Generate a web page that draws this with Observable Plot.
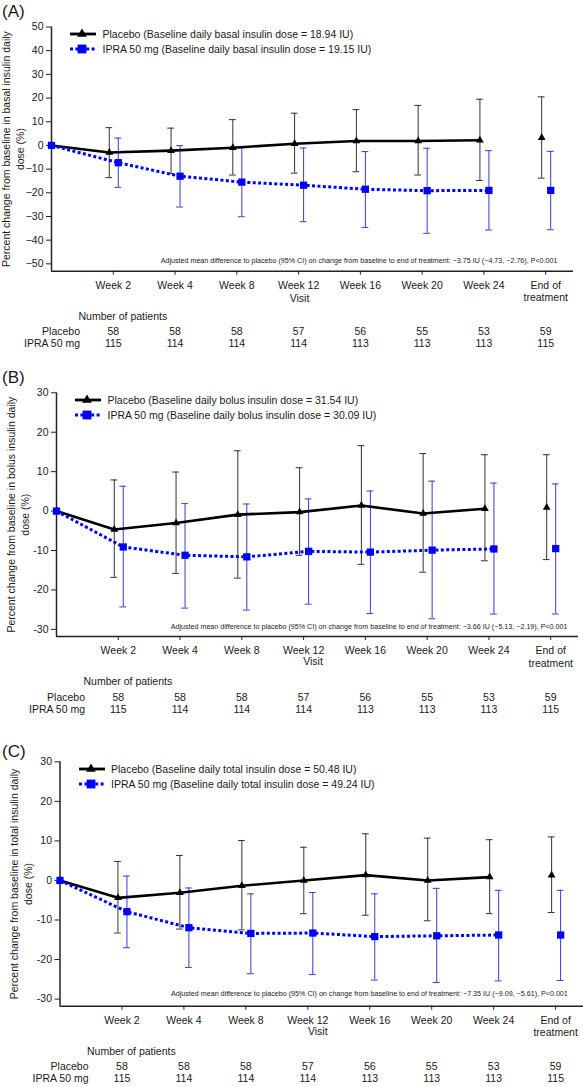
<!DOCTYPE html>
<html><head><meta charset="utf-8">
<script src="https://cdn.jsdelivr.net/npm/d3@7"></script>
<script src="https://cdn.jsdelivr.net/npm/@observablehq/plot@0.6"></script>
<style>
body{margin:0;background:#fff;font-family:'Liberation Sans',Arial,Helvetica,sans-serif;color:#1a1a1a}
#page{position:relative;width:583px;height:1087px;overflow:hidden;background:#fff}
.panel{position:absolute;left:0}
.plab{position:absolute;left:2px;font-size:17px;line-height:20px;color:#1a1a1a}
.leg{position:absolute;font-size:10.5px;line-height:15px;white-space:nowrap;color:#1a1a1a}
.leg .row{display:flex;align-items:center;height:15px}
.leg svg{margin-right:6.5px;flex:none}
</style></head><body><div id="page"></div>
<script>
// ---------- data ----------
const visits = ["Baseline","Week 2","Week 4","Week 8","Week 12","Week 16","Week 20","Week 24","End of treatment"];
const tickLabels = ["","Week 2","Week 4","Week 8","Week 12","Week 16","Week 20","Week 24","End of\ntreatment"];
const nPlacebo = [58,58,58,57,56,55,53,59];
const nIpra = [115,114,114,114,113,113,113,115];

const yTicksA = [-50,-40,-30,-20,-10,0,10,20,30,40,50];
const yTicksBC = [-30,-20,-10,0,10,20,30];

// Panel A: basal insulin
const placeboMeanA = [0,-3.0,-2.2,-1.0,0.7,1.9,1.9,2.2,3.2];
const placeboLoA   = [null,-13.6,-11.9,-12.5,-11.7,-11.1,-12.5,-14.8,-13.8];
const placeboHiA   = [null,7.5,7.3,10.9,13.6,15.1,16.9,19.5,20.5];
const ipraMeanA    = [0,-7.3,-13.0,-15.5,-16.8,-18.5,-19.1,-19.0,-19.0];
const ipraLoA      = [null,-17.7,-26.0,-30.1,-32.2,-34.6,-37.1,-35.7,-35.6];
const ipraHiA      = [null,3.1,-0.1,-1.0,-1.1,-2.6,-1.2,-2.2,-2.5];

// Panel B: bolus insulin
const placeboMeanB = [0,-4.65,-3.0,-0.9,-0.25,1.4,-0.6,0.6,0.9];
const placeboLoB   = [null,-16.8,-15.8,-17.0,-11.2,-13.5,-15.5,-12.6,-12.3];
const placeboHiB   = [null,7.9,9.9,15.3,11.0,16.6,14.6,14.3,14.3];
const ipraMeanB    = [0,-9.1,-11.2,-11.6,-10.2,-10.4,-9.9,-9.6,-9.5];
const ipraLoB      = [null,-24.3,-24.6,-25.1,-23.6,-26.0,-27.3,-26.1,-26.1];
const ipraHiB      = [null,6.3,1.9,1.8,3.1,5.1,7.6,7.1,6.9];

// Panel C: total insulin
const placeboMeanC = [0,-4.4,-3.1,-1.35,0,1.35,0,0.85,1.3];
const placeboLoC   = [null,-13.3,-12.3,-12.5,-8.4,-8.8,-10.2,-8.4,-8.1];
const placeboHiC   = [null,4.8,6.3,10.1,8.4,11.8,10.7,10.3,11.0];
const ipraMeanC    = [0,-7.9,-11.95,-13.4,-13.3,-14.2,-14.0,-13.8,-13.8];
const ipraLoC      = [null,-17.0,-22.0,-23.6,-23.8,-25.2,-25.8,-25.4,-25.3];
const ipraHiC      = [null,1.1,-1.9,-3.4,-3.05,-3.4,-2.0,-2.5,-2.5];

const legendA = ["Placebo (Baseline daily basal insulin dose = 18.94 IU)","IPRA 50 mg (Baseline daily basal insulin dose = 19.15 IU)"];
const legendB = ["Placebo (Baseline daily bolus insulin dose = 31.54 IU)","IPRA 50 mg (Baseline daily bolus insulin dose = 30.09 IU)"];
const legendC = ["Placebo (Baseline daily total insulin dose = 50.48 IU)","IPRA 50 mg (Baseline daily total insulin dose = 49.24 IU)"];
const yLabelA = ["Percent change from baseline in basal insulin daily","dose (%)"];
const yLabelB = ["Percent change from baseline in bolus insulin daily","dose (%)"];
const yLabelC = ["Percent change from baseline in total insulin daily","dose (%)"];
const annotA = "Adjusted mean difference to placebo (95% CI) on change from baseline to end of treatment: \u22123.75 IU (\u22124.73, \u22122.76), P<0.001";
const annotB = "Adjusted mean difference to placebo (95% CI) on change from baseline to end of treatment: \u22123.66 IU (\u22125.13, \u22122.19), P<0.001";
const annotC = "Adjusted mean difference to placebo (95% CI) on change from baseline to end of treatment: \u22127.35 IU (\u22129.09, \u22125.61), P<0.001";

// ---------- styles ----------
const W = 583;
const FONT = "'Liberation Sans', Arial, Helvetica, sans-serif";
const INK = "#1a1a1a";
const BLUE = "#0000ff";
const BLUE_BAR = "#3a3ad8";
const X_MAX = 8.45;

const page = document.getElementById("page");

function legendGlyph(kind) {
  const svg = d3.create("svg").attr("width", 26).attr("height", 12);
  if (kind === "placebo") {
    svg.append("line").attr("x1", 0).attr("x2", 26).attr("y1", 6).attr("y2", 6)
      .attr("stroke", "#000").attr("stroke-width", 2.8);
    svg.append("path").attr("d", d3.symbol(d3.symbolTriangle, 3.6 * 3.6 * Math.PI)())
      .attr("transform", "translate(12,6)").attr("fill", "#000");
  } else {
    svg.append("line").attr("x1", 0).attr("x2", 26).attr("y1", 6).attr("y2", 6)
      .attr("stroke", BLUE).attr("stroke-width", 3).attr("stroke-dasharray", "3,2.4");
    svg.append("path").attr("d", d3.symbol(d3.symbolSquare, 5 * 5 * Math.PI)())
      .attr("transform", "translate(12,6)").attr("fill", BLUE);
  }
  return svg.node();
}

function drawPanel(cfg) {
  const spacing = (W - cfg.ml - cfg.mr) / X_MAX;
  const offP = -4 / spacing, offI = 5 / spacing, cap = 3.4 / spacing;
  const rows = (mean, lo, hi, off) => mean.map((m, i) => ({
    i, visit: visits[i], x: i === 0 ? 0 : i + off, mean: m, lo: lo[i], hi: hi[i]
  }));
  const P = rows(cfg.pm, cfg.pl, cfg.ph, offP);
  const I = rows(cfg.im, cfg.il, cfg.ih, offI);
  const Pe = P.filter(d => d.lo != null), Ie = I.filter(d => d.lo != null);
  const lineP = P.filter(d => d.visit !== "End of treatment");
  const lineI = I.filter(d => d.visit !== "End of treatment");

  const svg = Plot.plot({
    width: W, height: cfg.h,
    marginTop: cfg.mt, marginBottom: cfg.mb, marginLeft: cfg.ml, marginRight: cfg.mr,
    style: {fontFamily: FONT, fontSize: "10.5px", color: INK, background: "transparent", overflow: "visible"},
    x: {type: "linear", domain: [0, X_MAX], axis: null},
    y: {domain: cfg.yDomain, axis: null},
    marks: [
      Plot.ruleX([0], {y1: cfg.yDomain[0], y2: cfg.yDomain[1], stroke: "#222", strokeWidth: 1.5}),
      Plot.ruleY([cfg.yDomain[0]], {stroke: "#222", strokeWidth: 1.6}),
      Plot.axisY({ticks: cfg.yTicks, tickSize: 5, tickPadding: 3, tickFormat: cfg.yFmt, label: null, stroke: "#222", fill: INK}),
      Plot.axisX({ticks: d3.range(1, visits.length), tickSize: 4, tickPadding: 5,
        tickFormat: i => tickLabels[i], label: null, lineHeight: 1.18, stroke: "#222", fill: INK}),
      // error bars
      Plot.ruleX(Pe, {x: "x", y1: "lo", y2: "hi", stroke: "#333", strokeWidth: 1}),
      Plot.ruleY(Pe, {y: "hi", x1: d => d.x - cap, x2: d => d.x + cap, stroke: "#333", strokeWidth: 1}),
      Plot.ruleY(Pe, {y: "lo", x1: d => d.x - cap, x2: d => d.x + cap, stroke: "#333", strokeWidth: 1}),
      Plot.ruleX(Ie, {x: "x", y1: "lo", y2: "hi", stroke: BLUE_BAR, strokeWidth: 1}),
      Plot.ruleY(Ie, {y: "hi", x1: d => d.x - cap, x2: d => d.x + cap, stroke: BLUE_BAR, strokeWidth: 1}),
      Plot.ruleY(Ie, {y: "lo", x1: d => d.x - cap, x2: d => d.x + cap, stroke: BLUE_BAR, strokeWidth: 1}),
      // lines
      Plot.line(lineP, {x: "x", y: "mean", stroke: "#000", strokeWidth: 2.6}),
      Plot.line(lineI, {x: "x", y: "mean", stroke: BLUE, strokeWidth: 3, strokeDasharray: "3,2.4", strokeLinecap: "butt", strokeLinejoin: "miter"}),
      // markers
      Plot.dot(P, {x: "x", y: "mean", symbol: "triangle", r: 2.9, fill: "#000"}),
      Plot.dot(I, {x: "x", y: "mean", symbol: "square", r: 4.1, fill: BLUE}),
      // y label (two lines)
      Plot.text([cfg.yLabel[0]], {text: d => d, frameAnchor: "left", textAnchor: "middle", rotate: -90, dx: -45, fill: INK}),
      Plot.text([cfg.yLabel[1]], {text: d => d, frameAnchor: "left", textAnchor: "middle", rotate: -90, dx: -31, fill: INK}),
      // annotation
      Plot.text([cfg.annot], {text: d => d, frameAnchor: "bottom-right", textAnchor: "end",
        dx: cfg.annotDx, dy: cfg.annotDy, fontSize: 7.15, fill: INK}),
      // x label
      Plot.text(["Visit"], {text: d => d, frameAnchor: "bottom", dx: cfg.visitDx, dy: cfg.visitDy, fill: INK}),
      // patient table
      Plot.text(["Number of patients"], {text: d => d, frameAnchor: "bottom-left", textAnchor: "start", dx: 27, dy: 48.5, fill: INK}),
      Plot.text(["Placebo"], {text: d => d, frameAnchor: "bottom-left", textAnchor: "end", dx: 28.5, dy: 64, fill: INK}),
      Plot.text(["IPRA 50 mg"], {text: d => d, frameAnchor: "bottom-left", textAnchor: "end", dx: 28.5, dy: 76, fill: INK}),
      Plot.text(nPlacebo, {x: (d, i) => i + 1, text: d => String(d), frameAnchor: "bottom", dy: 64, fill: INK}),
      Plot.text(nIpra, {x: (d, i) => i + 1, text: d => String(d), frameAnchor: "bottom", dy: 76, fill: INK})
    ]
  });

  const wrap = document.createElement("div");
  wrap.className = "panel";
  wrap.style.top = cfg.top + "px";
  wrap.appendChild(svg);
  page.appendChild(wrap);

  const lab = document.createElement("div");
  lab.className = "plab";
  lab.style.top = cfg.labTop + "px";
  lab.textContent = cfg.label;
  page.appendChild(lab);

  const leg = document.createElement("div");
  leg.className = "leg";
  leg.style.left = (cfg.ml + 19) + "px";
  leg.style.top = (cfg.top + cfg.mt + cfg.legOff) + "px";
  cfg.legend.forEach((t, k) => {
    const r = document.createElement("div");
    r.className = "row";
    r.appendChild(legendGlyph(k === 0 ? "placebo" : "ipra"));
    const s = document.createElement("span");
    s.textContent = t;
    r.appendChild(s);
    leg.appendChild(r);
  });
  page.appendChild(leg);
}

const fmtMinus = d => d < 0 ? "\u2212" + (-d) : String(d);
const fmtHyphen = d => String(d);

drawPanel({label: "(A)", labTop: 2, top: 0, h: 360, mt: 26.5, mb: 89.3, ml: 51, mr: 10,
  yDomain: [-53.1, 50], yTicks: yTicksA, yFmt: fmtMinus, yLabel: yLabelA, legend: legendA, legOff: 0.3,
  annot: annotA, annotDx: -16, annotDy: -8, visitDx: -13, visitDy: 31,
  pm: placeboMeanA, pl: placeboLoA, ph: placeboHiA, im: ipraMeanA, il: ipraLoA, ih: ipraHiA});

drawPanel({label: "(B)", labTop: 368, top: 360, h: 365, mt: 32.3, mb: 89, ml: 56, mr: 5,
  yDomain: [-31.8, 30], yTicks: yTicksBC, yFmt: fmtHyphen, yLabel: yLabelB, legend: legendB, legOff: 0.2,
  annot: annotB, annotDx: -11, annotDy: -7.7, visitDx: -4.5, visitDy: 28.6,
  pm: placeboMeanB, pl: placeboLoB, ph: placeboHiB, im: ipraMeanB, il: ipraLoB, ih: ipraHiB});

drawPanel({label: "(C)", labTop: 741.7, top: 725, h: 362, mt: 36.3, mb: 81.3, ml: 59.5, mr: 0,
  yDomain: [-31.8, 30], yTicks: yTicksBC, yFmt: fmtHyphen, yLabel: yLabelC, legend: legendC, legOff: 0.2,
  annot: annotC, annotDx: -15.7, annotDy: -10, visitDx: -4, visitDy: 28.8,
  pm: placeboMeanC, pl: placeboLoC, ph: placeboHiC, im: ipraMeanC, il: ipraLoC, ih: ipraHiC});
</script>
</body></html>
